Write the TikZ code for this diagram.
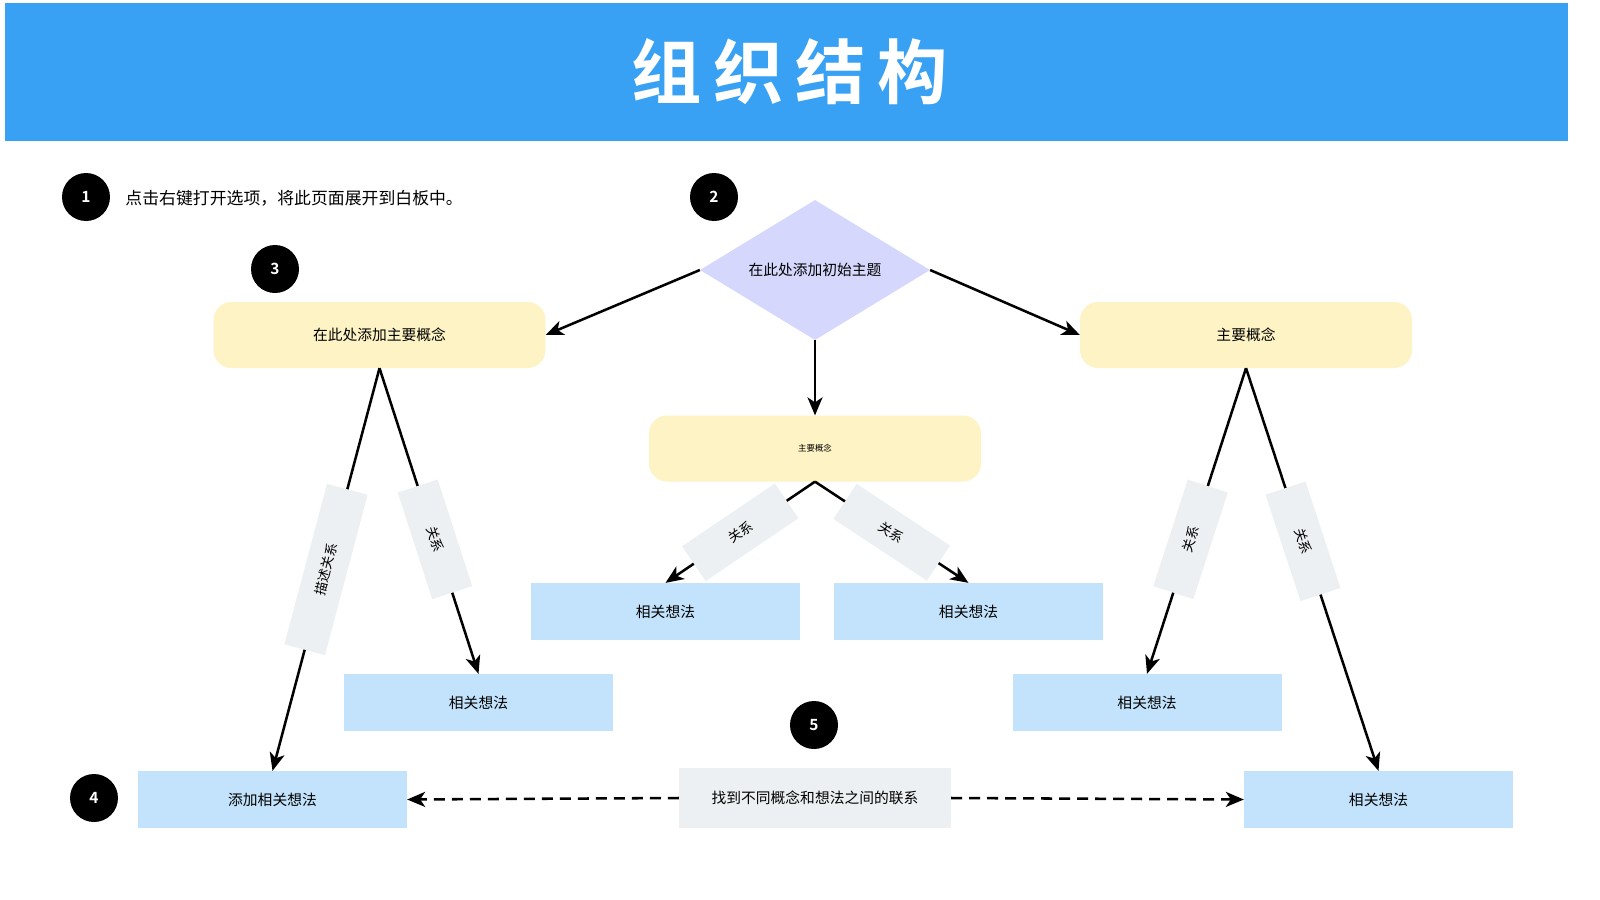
\documentclass[tikz,border=0pt]{standalone}
\usepackage{fontspec}
\setmainfont{Noto Sans CJK SC}
\newfontfamily\cjkbold{Noto Sans CJK SC Bold}
\usetikzlibrary{arrows.meta,shapes.geometric}
\definecolor{hdr}{HTML}{38A1F4}
\definecolor{dia}{HTML}{D5D8FC}
\definecolor{yel}{HTML}{FDF3C4}
\definecolor{blu}{HTML}{C2E3FB}
\definecolor{gry}{HTML}{EDF0F2}
\begin{document}
\begin{tikzpicture}[x=0.05cm,y=-0.05cm,
  badge/.style={circle,fill=black,minimum size=2.4cm,inner sep=0pt,text=white,font=\cjkbold\fontsize{22}{24}\selectfont},
  ybox/.style={rectangle,rounded corners=0.9cm,fill=yel,minimum width=16.6cm,minimum height=3.3cm,font=\fontsize{21}{24}\selectfont},
  bbox/.style={rectangle,fill=blu,minimum width=13.45cm,minimum height=2.85cm,font=\fontsize{21}{24}\selectfont},
  conn/.style={line width=3.6pt,-{Stealth[length=0.9cm,width=0.75cm,inset=0.25cm]}},
  lab/.style={rectangle,fill=gry,sloped,minimum height=2.1cm,inner sep=0pt,font=\fontsize{19}{22}\selectfont}]
\fill[white] (0,0) rectangle (1600,900);
\fill[hdr] (5,3) rectangle (1568,141);
\node[text=white,font=\cjkbold\fontsize{100}{110}\selectfont] (title) at (790,72) {组\,织\,结\,构};
\node[badge] (b1) at (86,197) {1};
\node[badge] (b2) at (714,197) {2};
\node[badge] (b3) at (275,269) {3};
\node[badge] (b4) at (94,798) {4};
\node[badge] (b5) at (814,725) {5};
\node[anchor=west,font=\fontsize{24}{26}\selectfont] (t1) at (123,198) {点击右键打开选项，将此页面展开到白板中。};
\node[diamond,fill=dia,minimum width=11.5cm,minimum height=7cm,inner sep=0pt,aspect=1.64,font=\fontsize{21}{24}\selectfont] (d) at (815,270) {在此处添加初始主题};
\node[ybox] (yl) at (379.5,335) {在此处添加主要概念};
\node[ybox] (yr) at (1246,335) {主要概念};
\node[ybox,font=\fontsize{12}{14}\selectfont] (yc) at (815,448.5) {主要概念};
\node[bbox] (c1) at (665.5,611.5) {相关想法};
\node[bbox] (c2) at (968.5,611.5) {相关想法};
\node[bbox] (l1) at (478.5,702.5) {相关想法};
\node[bbox] (r1) at (1147,702.5) {相关想法};
\node[bbox] (l2) at (272.5,799.5) {添加相关想法};
\node[bbox] (r2) at (1378.5,799.5) {相关想法};
\node[rectangle,fill=gry,minimum width=13.6cm,minimum height=3cm,font=\fontsize{21}{24}\selectfont] (g) at (815,798) {找到不同概念和想法之间的联系};
\draw[conn] (d.west) -- (yl.east);
\draw[conn] (d.east) -- (yr.west);
\draw[conn] (d.south) -- (yc.north);
\draw[conn] (yl.south) -- (l2.north) node[lab,pos=0.5,minimum width=8.3cm] {描述关系};
\draw[conn] (yl.south) -- (l1.north) node[lab,pos=0.56,minimum width=5.6cm] {关系};
\draw[conn] (yc.south) -- (c1.north) node[lab,pos=0.5,minimum width=5.6cm] {关系};
\draw[conn] (yc.south) -- (c2.north) node[lab,pos=0.5,minimum width=5.6cm] {关系};
\draw[conn] (yr.south) -- (r1.north) node[lab,pos=0.56,minimum width=5.6cm] {关系};
\draw[conn] (yr.south) -- (r2.north) node[lab,pos=0.43,minimum width=5.6cm] {关系};
\draw[conn,dashed,dash pattern=on 0.55cm off 0.35cm] (g.west) -- (l2.east);
\draw[conn,dashed,dash pattern=on 0.55cm off 0.35cm] (g.east) -- (r2.west);
\pgfresetboundingbox
\path[use as bounding box] (0,0) rectangle (1600,900);
\end{tikzpicture}
\end{document}
